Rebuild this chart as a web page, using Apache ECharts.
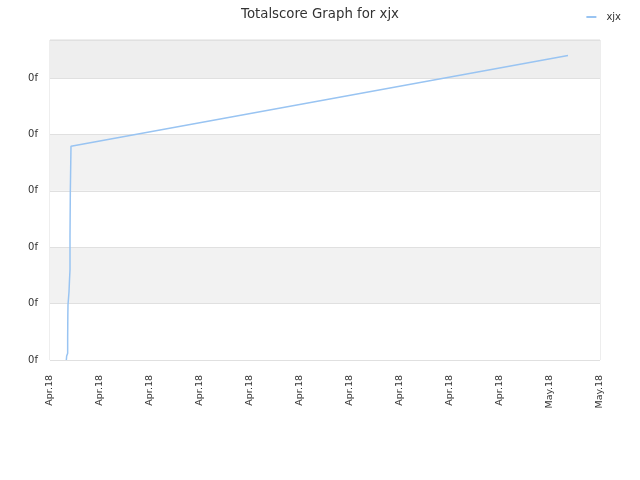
<!DOCTYPE html>
<html><head><meta charset="utf-8">
<script src="https://cdn.jsdelivr.net/npm/echarts@6/dist/echarts.min.js"></script>
<style>html,body{margin:0;padding:0;background:#fff}#c{width:640px;height:480px}</style>
</head><body><div id="c"></div>
<script>
// x: days since 2018-04-01, y: total score (axis labels shown as "0f")
const seriesName = 'xjx';
const xDays = [0.98, 1.0, 1.06, 1.06, 1.07, 1.08, 1.14, 1.17, 1.2, 1.2, 1.22, 1.26, 1.26, 1.38, 31.08];
const yScore = [0, 0.07, 0.12, 0.41, 0.79, 0.98, 1.21, 1.42, 1.6, 2.18, 3.0, 3.03, 3.79, 3.8, 5.4];
const monthLabels = ['Apr.18', 'May.18'];
const yTickLabel = '0f';

const data = xDays.map((x, i) => [x, yScore[i]]);
const chart = echarts.init(document.getElementById('c'), null, {renderer: 'canvas'});
chart.setOption({
  animation: false,
  backgroundColor: '#fff',
  title: {text: 'Totalscore Graph for xjx', left: 'center', top: 3,
    textStyle: {fontFamily: 'DejaVu Sans', fontSize: 13.3, fontWeight: 'normal', color: '#333'}},
  legend: {right: 14, top: 7, itemWidth: 10, itemHeight: 2, itemGap: 5,
    textStyle: {fontFamily: 'DejaVu Sans', fontSize: 10, color: '#333', padding: [0, 0, 0, 5]},
    data: [{name: seriesName, icon: 'rect'}]},
  grid: {left: 50, right: 40, top: 40, bottom: 120, show: true, borderColor: '#dcdcdc', borderWidth: 1, backgroundColor: 'transparent'},
  xAxis: {type: 'value', min: 0, max: 33, interval: 3,
    axisLine: {show: false}, axisTick: {show: false}, splitLine: {show: false},
    axisLabel: {rotate: 90, fontFamily: 'DejaVu Sans', fontSize: 9.5, color: '#333', margin: 15,
      formatter: v => v < 30 ? monthLabels[0] : monthLabels[1]}},
  yAxis: {type: 'value', min: 0, max: 5.674, interval: 1,
    axisLine: {show: false}, axisTick: {show: false},
    splitLine: {show: true, lineStyle: {color: '#e0e0e0', width: 1}},
    splitArea: {show: true, areaStyle: {color: ['#ffffff', '#f2f2f2', '#ffffff', '#f2f2f2', '#ffffff', '#eeeeee']}},
    axisLabel: {fontFamily: 'DejaVu Sans', fontSize: 10, color: '#333', margin: 12, showMaxLabel: false,
      formatter: () => yTickLabel}},
  series: [{name: seriesName, type: 'line', data: data, showSymbol: false, symbol: 'none',
    lineStyle: {color: '#99c4f2', width: 1.5}, itemStyle: {color: '#99c4f2'}}]
});
</script></body></html>
